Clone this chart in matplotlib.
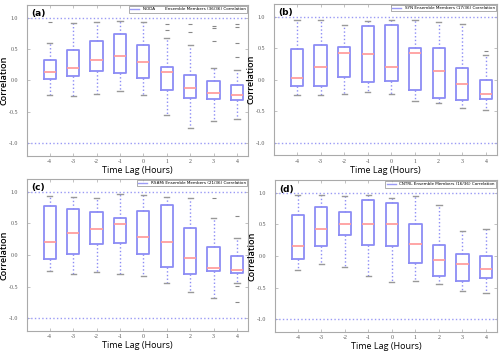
import matplotlib
matplotlib.use('Agg')
import matplotlib.pyplot as plt
import numpy as np

# time lags (hours)
lags = [-4, -3, -2, -1, 0, 1, 2, 3, 4]

# panel (a) NODA
a_whishi = [0.59, 0.92, 0.93, 0.94, 0.93, 0.67, 0.57, 0.20, 0.16]
a_q3     = [0.32, 0.49, 0.62, 0.74, 0.56, 0.21, 0.08, -0.01, -0.08]
a_med    = [0.13, 0.20, 0.32, 0.39, 0.30, 0.13, -0.12, -0.20, -0.23]
a_q1     = [0.02, 0.07, 0.15, 0.11, 0.04, -0.15, -0.28, -0.29, -0.31]
a_whislo = [-0.23, -0.25, -0.22, -0.17, -0.23, -0.55, -0.75, -0.64, -0.61]
a_fliers = [[0.93], [], [], [], [], [0.89, 0.80], [0.89, 0.77], [0.86, 0.83, 0.62], [0.89, 0.85, 0.60, 0.37]]

# panel (b) SYN
b_whishi = [0.94, 0.95, 0.86, 0.93, 0.94, 0.94, 0.92, 0.88, 0.39]
b_q3     = [0.48, 0.54, 0.51, 0.85, 0.86, 0.50, 0.50, 0.18, 0.00]
b_med    = [0.02, 0.20, 0.42, 0.40, 0.20, 0.42, 0.13, -0.07, -0.23]
b_q1     = [-0.11, -0.11, 0.04, -0.04, -0.03, -0.17, -0.29, -0.32, -0.31]
b_whislo = [-0.24, -0.25, -0.23, -0.20, -0.23, -0.34, -0.38, -0.45, -0.49]
b_fliers = [[], [], [], [], [], [], [], [], [0.46]]

# panel (c) RSAMi
c_whishi = [0.93, 0.91, 0.90, 0.96, 0.95, 0.91, 0.90, 0.58, 0.26]
c_q3     = [0.78, 0.72, 0.67, 0.58, 0.70, 0.79, 0.42, 0.12, -0.01]
c_med    = [0.21, 0.35, 0.41, 0.49, 0.29, 0.20, -0.05, -0.21, -0.24]
c_q1     = [-0.07, 0.01, 0.17, 0.18, 0.01, -0.19, -0.30, -0.26, -0.29]
c_whislo = [-0.26, -0.30, -0.27, -0.30, -0.33, -0.45, -0.58, -0.68, -0.45]
c_fliers = [[], [], [], [], [], [], [], [0.90], [0.62, -0.49, -0.74]]

# panel (d) CNTRL
d_whishi = [0.96, 0.97, 0.94, 0.96, 0.92, 0.94, 0.80, 0.39, 0.42]
d_q3     = [0.65, 0.77, 0.70, 0.88, 0.83, 0.51, 0.18, 0.03, 0.00]
d_med    = [0.16, 0.42, 0.50, 0.50, 0.50, 0.19, -0.07, -0.12, -0.21]
d_q1     = [-0.05, 0.15, 0.33, 0.18, 0.15, -0.11, -0.31, -0.40, -0.35]
d_whislo = [-0.22, -0.12, -0.17, -0.32, -0.41, -0.40, -0.45, -0.55, -0.59]
d_fliers = [[], [], [], [], [], [], [], [], []]

panels = [
    ('(a)', 'NODA        Ensemble Members (36/36) Correlation', a_whishi, a_q3, a_med, a_q1, a_whislo, a_fliers),
    ('(b)', 'SYN Ensemble Members (17/36) Correlation', b_whishi, b_q3, b_med, b_q1, b_whislo, b_fliers),
    ('(c)', 'RSAMi Ensemble Members (21/36) Correlation', c_whishi, c_q3, c_med, c_q1, c_whislo, c_fliers),
    ('(d)', 'CNTRL Ensemble Members (16/36) Correlation', d_whishi, d_q3, d_med, d_q1, d_whislo, d_fliers),
]

# axes rectangles [left, bottom, width, height]
rects = [[0.054, 0.561, 0.442, 0.425],
         [0.548, 0.563, 0.446, 0.426],
         [0.054, 0.068, 0.442, 0.428],
         [0.550, 0.065, 0.444, 0.428]]

boxc = '#8c8cf5'
fig = plt.figure(figsize=(5, 3.55), dpi=100)

for (tag, lab, whi, q3, med, q1, wlo, fl), r in zip(panels, rects):
    ax = fig.add_axes(r)
    stats = []
    for i in range(len(lags)):
        stats.append(dict(med=med[i], q1=q1[i], q3=q3[i], whislo=wlo[i],
                          whishi=whi[i], fliers=fl[i]))
    ax.bxp(stats, positions=lags, widths=0.52, capwidths=0.22,
           boxprops=dict(color=boxc, lw=1.3),
           whiskerprops=dict(color=boxc, lw=1.0, ls=':'),
           capprops=dict(color='#999999', lw=1.0),
           medianprops=dict(color='#ff9e9e', lw=1.3),
           flierprops=dict(marker='_', markersize=2.5, markeredgecolor='#888888', markeredgewidth=0.8))
    # reference lines at +/-1
    ax.axhline(1.0, color='#9a9af5', ls=':', lw=1.0, label=lab)
    ax.axhline(-1.0, color='#9a9af5', ls=':', lw=1.0)
    ax.set_xlim(-4.97, 4.47)
    ax.set_ylim(-1.2, 1.2)
    ax.set_yticks([-1.0, -0.5, 0.0, 0.5, 1.0])
    ax.set_yticklabels(['-1.0', '-0.5', '0.0', '0.5', '1.0'])
    ax.set_xticks(lags)
    ax.set_xticklabels([str(v) for v in lags])
    ax.tick_params(direction='in', top=True, right=True, length=2, width=0.5,
                   color='#aaaaaa', labelsize=4.2, labelcolor='#555555')
    ax.tick_params(axis='x', pad=2.5)
    ax.tick_params(axis='y', pad=6.5)
    for t in ax.get_xticklabels() + ax.get_yticklabels():
        t.set_family('Liberation Serif')
    for s in ax.spines.values():
        s.set_color('#aaaaaa')
        s.set_linewidth(0.8)
    ax.set_xlabel('Time Lag (Hours)', fontsize=6.5, family='Open Sans', labelpad=1.5)
    ax.set_ylabel('Correlation', fontsize=6.5, family='Open Sans', fontweight='semibold')
    ax.yaxis.set_label_coords(-0.085, 0.5)
    ax.text(0.02, 0.97, tag, transform=ax.transAxes, fontsize=6.5, fontweight='bold',
            family='DejaVu Sans', va='top', ha='left')
    leg = ax.legend(loc='upper right', fontsize=3.0, frameon=True, fancybox=False,
                    borderpad=0.3, handlelength=2.2, borderaxespad=0.25)
    leg.get_frame().set_edgecolor('#888888')
    leg.get_frame().set_linewidth(0.6)
    for h in leg.get_lines():
        h.set_linestyle('-')

fig.savefig('out.png', dpi=100)
